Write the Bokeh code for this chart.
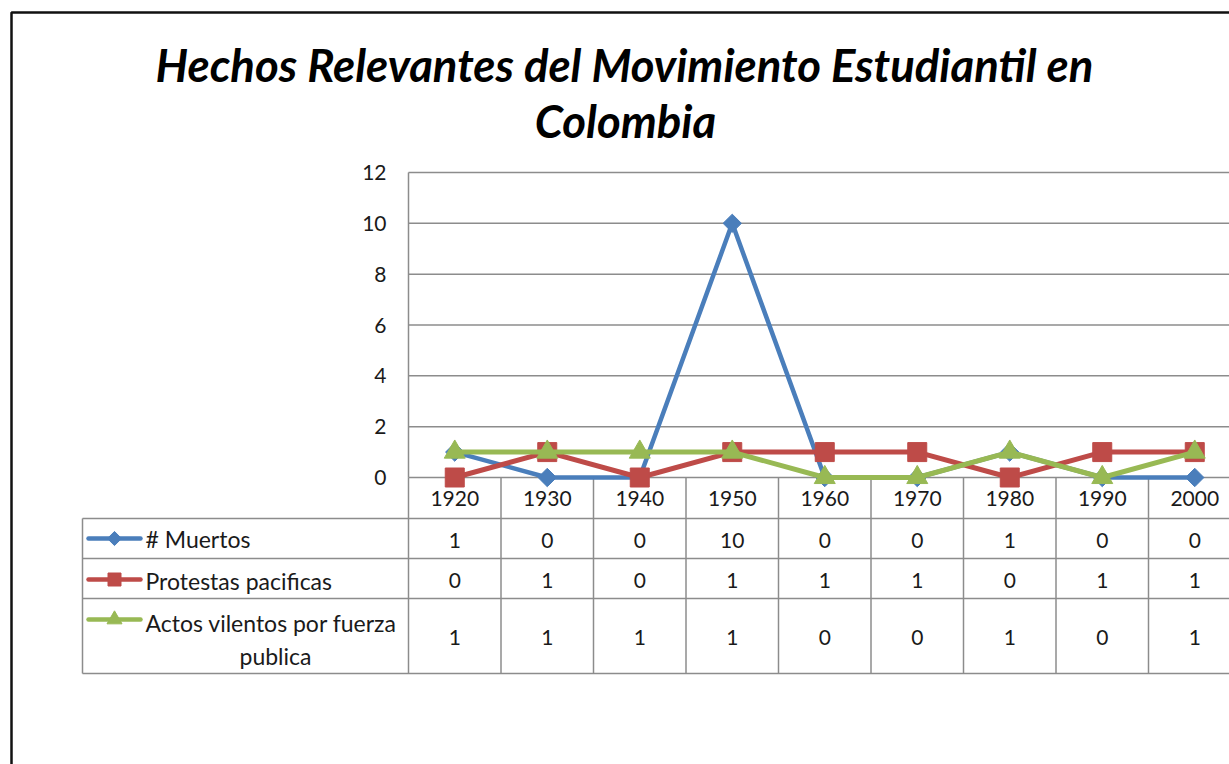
import numpy as np
from bokeh.plotting import figure
from bokeh.models import LinearAxis, FixedTicker, Range1d
from bokeh.core.properties import value
from bokeh.embed import file_html
from bokeh.resources import INLINE

# ---------------- data ----------------
years = ["1920", "1930", "1940", "1950", "1960", "1970", "1980", "1990", "2000"]
muertos = [1, 0, 0, 10, 0, 0, 1, 0, 0]
protestas = [0, 1, 0, 1, 1, 1, 0, 1, 1]
actos = [1, 1, 1, 1, 0, 0, 1, 0, 1]
series_names = ["# Muertos", "Protestas pacificas", "Actos vilentos por fuerza publica"]
y_ticks = [0, 2, 4, 6, 8, 10, 12]
title_lines = ["Hechos Relevantes del Movimiento Estudiantil en", "Colombia"]

# ---------------- styles / layout ----------------
BLUE, RED, GREEN = "#4A7EBB", "#BE4B48", "#98B954"
GRID = "#8C8C8C"
TXT = "#1a1a1a"
FONT = "Lato"

W, H = 1229, 764
OX, OY = 0, 0                     # page position of the canvas origin
PX0, COLW = 408.0, 92.5           # plot-area left and column width (page px)
PY0, ROWU = 477.0, (477.0 - 172.0) / 12.0   # y=0 and px per unit
def dx(px): return (px - PX0) / COLW
def dy(py): return (PY0 - py) / ROWU

x_start, x_end = dx(OX), dx(OX + W)
y_start, y_end = dy(OY + H), dy(OY)

p = figure(width=W, height=H, output_backend="svg", toolbar_location=None,
           x_axis_location=None, y_axis_location=None,
           x_range=Range1d(x_start, x_end), y_range=Range1d(y_start, y_end),
           min_border=0, tools="")
p.grid.visible = False
p.outline_line_color = None
p.background_fill_color = "white"
p.border_fill_color = "white"

n = len(years)
xc = np.arange(n) + 0.5

# outer chart border
bx, by = dx(11), dy(12)
p.line([bx, bx, x_end + 1], [y_start - 1, by, by], line_color="#111111", line_width=2.5)

# title
p.text(x=[dx(624), dx(625)], y=[dy(64), dy(120)], text=title_lines,
       text_font=value(FONT), text_font_style="bold italic", text_font_size="45.5px",
       text_align="center", text_baseline="alphabetic", text_color="#000000")

# horizontal gridlines (plot area)
gy = [t for t in y_ticks if t > 0]
p.segment(x0=[0] * len(gy), x1=[x_end + 1] * len(gy), y0=gy, y1=gy,
          line_color=GRID, line_width=1.5)

# y axis at the plot-area left edge
yax = LinearAxis(fixed_location=0, ticker=FixedTicker(ticks=y_ticks), bounds=(0, 12))
yax.axis_line_color = GRID
yax.axis_line_width = 1.5
yax.major_tick_line_color = None
yax.minor_tick_line_color = None
yax.major_tick_out = 0
yax.major_tick_in = 0
yax.major_label_standoff = 22
yax.major_label_text_font = FONT
yax.major_label_text_font_size = "21px"
yax.major_label_text_color = TXT
p.add_layout(yax, "left")

# ---------------- data table ----------------
t_left = dx(82)
row_lines = [dy(518), dy(558), dy(598), dy(673)]
t_bottom = row_lines[-1]
p.segment(x0=[0], x1=[x_end + 1], y0=[0], y1=[0], line_color=GRID, line_width=1.5)
p.segment(x0=[t_left] * 4, x1=[x_end + 1] * 4, y0=row_lines, y1=row_lines,
          line_color=GRID, line_width=1.5)
vx = list(range(n + 1))
p.segment(x0=vx, x1=vx, y0=[0] * len(vx), y1=[t_bottom] * len(vx),
          line_color=GRID, line_width=1.5)
p.segment(x0=[t_left], x1=[t_left], y0=[row_lines[0]], y1=[t_bottom],
          line_color=GRID, line_width=1.5)

# header (years)
p.text(x=xc, y=[dy(498)] * n, text=years, text_font=value(FONT), text_font_size="21px",
       text_align="center", text_baseline="middle", text_color=TXT)
row_y = [dy(540), dy(580), dy(637)]
for vals, yy in zip([muertos, protestas, actos], row_y):
    p.text(x=xc, y=[yy] * n, text=[str(v) for v in vals], text_font=value(FONT),
           text_font_size="21px", text_align="center", text_baseline="middle", text_color=TXT)

# legend keys in table
key_x0, key_x1, key_xm = dx(88), dx(140), dx(114)
key_y = [dy(538), dy(579), dy(619)]
cols = [BLUE, RED, GREEN]
for c, ky in zip(cols, key_y):
    p.line([key_x0, key_x1], [ky, ky], line_color=c, line_width=4.5, line_cap="round")
p.scatter([key_xm], [key_y[0]], marker="square", angle=np.pi / 4, size=10, color=BLUE)
p.scatter([key_xm], [key_y[1]], marker="square", size=13, color=RED)
p.scatter([key_xm], [key_y[2]], marker="triangle", size=15, color=GREEN)

tx = dx(145)
LFS = "23px"
p.text(x=[tx, tx], y=[dy(538), dy(580)], text=series_names[:2], text_font=value(FONT),
       text_font_size=LFS, text_align="left", text_baseline="middle", text_color=TXT)
words = series_names[2].split(" ")
p.text(x=[tx], y=[dy(622)], text=[" ".join(words[:-1])], text_font=value(FONT),
       text_font_size=LFS, text_align="left", text_baseline="middle", text_color=TXT)
p.text(x=[dx(275)], y=[dy(655)], text=[words[-1]], text_font=value(FONT),
       text_font_size=LFS, text_align="center", text_baseline="middle", text_color=TXT)

# ---------------- series ----------------
p.line(xc, muertos, line_color=BLUE, line_width=4.5)
p.scatter(xc, muertos, marker="square", angle=np.pi / 4, size=13, color=BLUE)
p.line(xc, protestas, line_color=RED, line_width=5)
p.scatter(xc, protestas, marker="square", size=19, color=RED)
p.line(xc, actos, line_color=GREEN, line_width=5)
p.scatter(xc, actos, marker="triangle", size=21, color=GREEN)

open("out.html", "w").write(file_html(p, INLINE))
